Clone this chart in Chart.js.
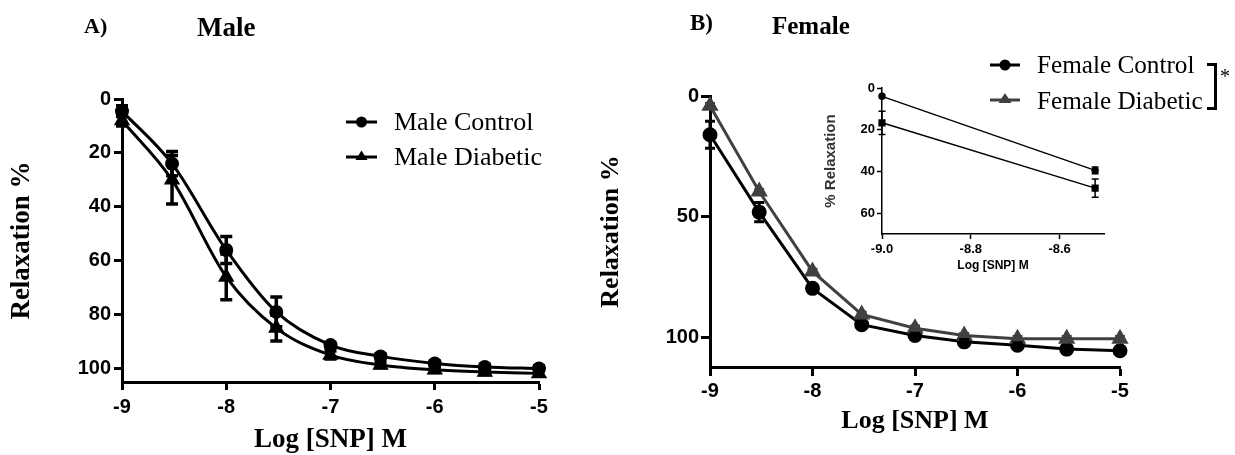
<!DOCTYPE html>
<html>
<head>
<meta charset="utf-8">
<script src="https://cdn.jsdelivr.net/npm/chart.js@4.4.1/dist/chart.umd.min.js"></script>
<style>
  html, body { margin: 0; padding: 0; background: #fff; }
  body { width: 1235px; height: 455px; position: relative; overflow: hidden; }
  canvas { position: absolute; }
  .t { position: absolute; font-family: 'Liberation Serif', 'Times New Roman', serif; line-height: 1; white-space: nowrap; color: #000; }
  .b { font-weight: bold; }
  .bracket { position: absolute; border: 3px solid #000; border-left: none; box-sizing: border-box; }
</style>
</head>
<body>
<canvas id="chartA" width="600" height="455" style="left:0;top:0;"></canvas>
<canvas id="chartB" width="645" height="455" style="left:590px;top:0;"></canvas>
<canvas id="chartInset" width="300" height="205" style="left:815px;top:75px;"></canvas>

<div class="t b" style="left:84px;top:15px;font-size:22px;">A)</div>
<div class="t b" style="left:197px;top:14px;font-size:27px;">Male</div>
<div class="t b" style="left:690px;top:11px;font-size:23px;">B)</div>
<div class="t b" style="left:772px;top:13px;font-size:25px;">Female</div>

<!-- Legend A -->
<svg style="position:absolute;left:345px;top:112px;" width="34" height="20">
  <line x1="1" y1="10" x2="32" y2="10" stroke="#000" stroke-width="3"/>
  <circle cx="16.5" cy="10" r="5.5" fill="#000"/>
</svg>
<div class="t" style="left:394px;top:109px;font-size:26px;">Male Control</div>
<svg style="position:absolute;left:345px;top:147px;" width="34" height="20">
  <line x1="1" y1="10" x2="32" y2="10" stroke="#000" stroke-width="3"/>
  <polygon points="16.5,3.5 22.5,13 10.5,13" fill="#000"/>
</svg>
<div class="t" style="left:394px;top:144px;font-size:26px;">Male Diabetic</div>

<!-- Legend B -->
<svg style="position:absolute;left:988px;top:55px;" width="34" height="20">
  <line x1="2" y1="10" x2="32" y2="10" stroke="#000" stroke-width="3"/>
  <circle cx="17" cy="10" r="5.5" fill="#000"/>
</svg>
<div class="t" style="left:1037px;top:52px;font-size:25.2px;">Female Control</div>
<svg style="position:absolute;left:988px;top:90px;" width="34" height="20">
  <line x1="2" y1="10" x2="32" y2="10" stroke="#404040" stroke-width="3"/>
  <polygon points="17,3 23.5,13 10.5,13" fill="#404040"/>
</svg>
<div class="t" style="left:1037px;top:88px;font-size:25.2px;">Female Diabetic</div>
<div class="bracket" style="left:1207px;top:63px;width:10px;height:47px;"></div>
<div class="t" style="left:1220px;top:66px;font-size:20px;">*</div>

<script>
// ---------- data ----------
const logDose = [-9, -8.52, -8, -7.52, -7, -6.52, -6, -5.52, -5];
const xTicks = [-9, -8, -7, -6, -5];

const maleControl      = [4.5, 24, 56, 79, 91.3, 95.5, 98.1, 99.4, 100];
const maleControlErr   = [2, 4.5, 5, 5.5, 1, 1, 1, 1, 1];
const maleDiabetic     = [8, 30, 66, 85, 95, 98.7, 100.5, 101.3, 101.8];
const maleDiabeticErr  = [2, 9, 8.5, 4.8, 1.5, 1, 1, 1, 1];
const maleYTicks = [0, 20, 40, 60, 80, 100];

const femaleControl     = [16, 48, 79.5, 94.5, 99, 101.6, 103, 104.6, 105.3];
const femaleControlErr  = [5.6, 4, 1, 1, 1, 1, 1, 1.5, 1.5];
const femaleDiabetic    = [4, 39.5, 72.5, 90.3, 96, 99, 100.3, 100.3, 100.3];
const femaleDiabeticErr = [1, 1, 1, 1, 1, 1, 1, 1, 1];
const femaleYTicks = [0, 50, 100];

const insetDose = [-9, -8.52];
const insetCircle = [4, 39.5];
const insetCircleErr = [0, 1.6];
const insetSquare = [16.7, 48];
const insetSquareErr = [5.6, 4.4];
const insetXTicks = [-9, -8.8, -8.6];
const insetYTicks = [0, 20, 40, 60];

// ---------- helpers ----------
const pts = (xs, ys) => xs.map((x, i) => ({ x, y: ys[i] }));

const errorBarPlugin = {
  id: 'errorBars',
  afterDatasetsDraw(chart) {
    const { ctx } = chart;
    const x = chart.scales.x, y = chart.scales.y;
    chart.data.datasets.forEach((ds) => {
      if (!ds.errors) return;
      ctx.save();
      ctx.strokeStyle = ds.errorColor || ds.borderColor;
      ctx.lineWidth = ds.errorWidth || 2;
      ctx.lineCap = 'butt';
      const cap = ds.errorCap || 5;
      ds.data.forEach((p, j) => {
        const e = ds.errors[j];
        if (!e) return;
        const px = x.getPixelForValue(p.x);
        const y1 = y.getPixelForValue(p.y - e);
        const y2 = y.getPixelForValue(p.y + e);
        ctx.beginPath();
        ctx.moveTo(px, y1); ctx.lineTo(px, y2);
        ctx.moveTo(px - cap, y1); ctx.lineTo(px + cap, y1);
        ctx.moveTo(px - cap, y2); ctx.lineTo(px + cap, y2);
        ctx.stroke();
      });
      ctx.restore();
    });
  }
};

const serif = 'Liberation Serif';
const sans = 'Liberation Sans';

function mainOptions(cfg) {
  return {
    responsive: false,
    animation: false,
    devicePixelRatio: 1,
    layout: { padding: { top: cfg.padTop, right: cfg.padRight, left: 0, bottom: 0 } },
    plugins: { legend: { display: false }, tooltip: { enabled: false } },
    scales: {
      x: {
        type: 'linear', min: -9, max: -5,
        afterBuildTicks: s => { s.ticks = xTicks.map(v => ({ value: v })); },
        afterFit: s => { s.height = cfg.xHeight; },
        ticks: { color: '#000', font: { family: sans, weight: 'bold', size: cfg.tickSize }, padding: cfg.xTickPad, maxRotation: 0, autoSkip: false, callback: v => String(v) },
        grid: { drawOnChartArea: false, drawTicks: true, tickLength: cfg.tickLen, tickWidth: 3, tickColor: '#000', color: '#000' },
        border: { display: true, color: '#000', width: 3 },
        title: { display: true, text: 'Log [SNP] M', color: '#000', font: { family: serif, weight: 'bold', size: cfg.titleSize, lineHeight: 1.1 }, padding: { top: 0, bottom: cfg.xTitlePad } }
      },
      y: {
        type: 'linear', min: 0, max: cfg.yMax, reverse: true,
        afterBuildTicks: s => { s.ticks = cfg.yTicks.map(v => ({ value: v })); },
        afterFit: s => { s.width = cfg.yWidth; },
        ticks: { color: '#000', font: { family: sans, weight: 'bold', size: cfg.tickSize }, padding: cfg.yTickPad, autoSkip: false, callback: v => String(v) },
        grid: { drawOnChartArea: false, drawTicks: true, tickLength: cfg.tickLen, tickWidth: 3, tickColor: '#000', color: '#000' },
        border: { display: true, color: '#000', width: 3 },
        title: { display: true, text: 'Relaxation %', color: '#000', font: { family: serif, weight: 'bold', size: cfg.titleSize, lineHeight: 1.1 }, padding: { top: cfg.yTitlePad, bottom: 0 } }
      }
    }
  };
}

// ---------- Chart A: Male ----------
new Chart(document.getElementById('chartA'), {
  type: 'line',
  data: {
    datasets: [
      { label: 'Male Control', data: pts(logDose, maleControl), errors: maleControlErr,
        borderColor: '#000', backgroundColor: '#000', borderWidth: 3, pointStyle: 'circle', pointRadius: 5.5,
        cubicInterpolationMode: 'monotone', clip: false, errorWidth: 3.5, errorCap: 6 },
      { label: 'Male Diabetic', data: pts(logDose, maleDiabetic), errors: maleDiabeticErr,
        borderColor: '#000', backgroundColor: '#000', borderWidth: 3, pointStyle: 'triangle', pointRadius: 6.5,
        cubicInterpolationMode: 'monotone', clip: false, errorWidth: 3.5, errorCap: 6 }
    ]
  },
  options: mainOptions({ padTop: 99, padRight: 61, xHeight: 73, yWidth: 122, yMax: 105, yTicks: maleYTicks,
    tickSize: 20, tickLen: 8, xTickPad: 5, yTickPad: 3, titleSize: 27, xTitlePad: 0, yTitlePad: 7 }),
  plugins: [errorBarPlugin]
});

// ---------- Chart B: Female ----------
new Chart(document.getElementById('chartB'), {
  type: 'line',
  data: {
    datasets: [
      { label: 'Female Diabetic', data: pts(logDose, femaleDiabetic), errors: femaleDiabeticErr,
        borderColor: '#404040', backgroundColor: '#404040', borderWidth: 3, pointStyle: 'triangle', pointRadius: 7,
        tension: 0, clip: false, errorWidth: 2.5, errorCap: 5 },
      { label: 'Female Control', data: pts(logDose, femaleControl), errors: femaleControlErr,
        borderColor: '#000', backgroundColor: '#000', borderWidth: 3, pointStyle: 'circle', pointRadius: 6,
        tension: 0, clip: false, errorWidth: 3, errorCap: 5 }
    ]
  },
  options: mainOptions({ padTop: 96, padRight: 115, xHeight: 88, yWidth: 120, yMax: 112, yTicks: femaleYTicks,
    tickSize: 20, tickLen: 9, xTickPad: 3, yTickPad: 2, titleSize: 26, xTitlePad: 19, yTitlePad: 7 }),
  plugins: [errorBarPlugin]
});

// ---------- Inset ----------
new Chart(document.getElementById('chartInset'), {
  type: 'line',
  data: {
    datasets: [
      { label: 'A', data: pts(insetDose, insetCircle), errors: insetCircleErr,
        borderColor: '#000', backgroundColor: '#000', borderWidth: 1.5, pointStyle: 'circle', pointRadius: 3,
        tension: 0, clip: false, errorWidth: 1.5, errorCap: 3.5 },
      { label: 'B', data: pts(insetDose, insetSquare), errors: insetSquareErr,
        borderColor: '#000', backgroundColor: '#000', borderWidth: 1.5, pointStyle: 'rect', pointRadius: 4,
        tension: 0, clip: false, errorWidth: 1.5, errorCap: 3.5 }
    ]
  },
  options: {
    responsive: false, animation: false, devicePixelRatio: 1,
    layout: { padding: { top: 13, right: 11, left: 0, bottom: 0 } },
    plugins: { legend: { display: false }, tooltip: { enabled: false } },
    scales: {
      x: {
        type: 'linear', min: -9, max: -8.5,
        afterBuildTicks: s => { s.ticks = insetXTicks.map(v => ({ value: v })); },
        afterFit: s => { s.height = 46; },
        ticks: { color: '#000', font: { family: sans, weight: 'bold', size: 13 }, padding: 3, maxRotation: 0, autoSkip: false, callback: v => Number(v).toFixed(1) },
        grid: { drawOnChartArea: false, tickLength: 5, tickWidth: 1.5, tickColor: '#000' },
        border: { display: true, color: '#000', width: 1.5 },
        title: { display: true, text: 'Log [SNP] M', color: '#000', font: { family: sans, weight: 'bold', size: 12, lineHeight: 1.1 }, padding: { top: 0, bottom: 8 } }
      },
      y: {
        type: 'linear', min: 0, max: 70, reverse: true,
        afterBuildTicks: s => { s.ticks = insetYTicks.map(v => ({ value: v })); },
        afterFit: s => { s.width = 67; },
        ticks: { color: '#000', font: { family: sans, weight: 'bold', size: 13 }, padding: 2, autoSkip: false, callback: v => String(v) },
        grid: { drawOnChartArea: false, tickLength: 5, tickWidth: 1.5, tickColor: '#000' },
        border: { display: true, color: '#000', width: 1.5 },
        title: { display: true, text: '% Relaxation', color: '#333', font: { family: sans, weight: 'bold', size: 15, lineHeight: 1.1 }, padding: { top: 8, bottom: 0 } }
      }
    }
  },
  plugins: [errorBarPlugin]
});
</script>
</body>
</html>
